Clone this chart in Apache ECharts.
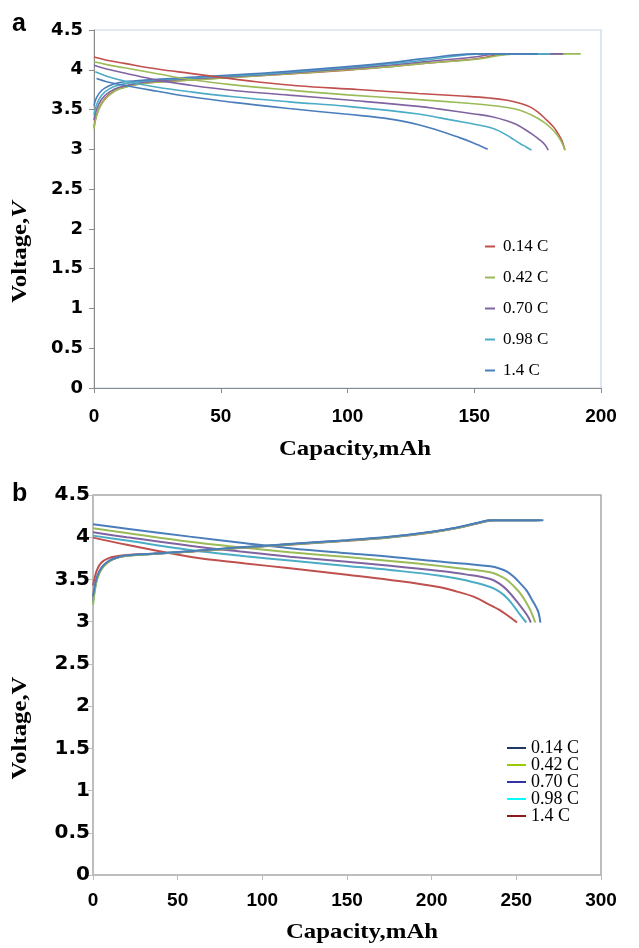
<!DOCTYPE html>
<html><head><meta charset="utf-8">
<script src="https://cdn.jsdelivr.net/npm/echarts@6/dist/echarts.min.js"></script>
<style>html,body{margin:0;padding:0;background:#fff}#c{width:639px;height:948px}</style>
</head><body><div id="c"></div>
<script>
// ---------- data ----------
const rates = ['0.14 C', '0.42 C', '0.70 C', '0.98 C', '1.4 C'];
const xTitle = 'Capacity,mAh';
const yTitle = 'Voltage,V';

// panel a : discharge [capacity mAh, voltage V]
const aDis014 = [[0,4.16],[5,4.12],[12,4.08],[25,4.01],[38,3.955],[50,3.905],[64,3.85],[80,3.80],[104,3.752],[128,3.702],[145,3.67],[156,3.645],[163,3.618],[168,3.58],[172,3.534],[175,3.47],[178.6,3.367],[181.2,3.283],[183,3.2],[184.5,3.116],[185.8,2.99]];
const aDis042 = [[0,4.10],[5,4.065],[12,4.025],[25,3.95],[38,3.878],[55,3.81],[77,3.745],[100,3.685],[128,3.625],[145,3.585],[156,3.555],[163,3.525],[168,3.49],[172,3.44],[175,3.39],[178,3.33],[180.5,3.26],[182.5,3.19],[184.3,3.1],[185.8,2.99]];
const aDis070 = [[0,4.058],[5,4.01],[12,3.96],[25,3.87],[38,3.806],[55,3.74],[77,3.681],[100,3.62],[128,3.54],[136.5,3.505],[150,3.445],[157,3.41],[162.8,3.36],[166.5,3.315],[169.4,3.262],[172.8,3.19],[175.9,3.116],[177.8,3.06],[179.2,2.99]];
const aDis098 = [[0.5,3.974],[5,3.92],[12,3.86],[25,3.78],[38,3.723],[55,3.66],[77,3.597],[100,3.54],[128,3.445],[136.5,3.395],[146,3.34],[151,3.31],[156.2,3.275],[159.5,3.235],[162.8,3.178],[165.5,3.125],[168,3.074],[170.5,3.03],[172.6,2.99]];
const aDis140 = [[1,3.89],[5,3.85],[11.6,3.806],[25,3.73],[38,3.66],[55,3.59],[77,3.513],[100,3.44],[117,3.38],[128,3.31],[136.5,3.23],[143,3.16],[149,3.09],[155.3,3.0]];
// panel a : charge
const aChg014 = [[0,3.28],[1,3.43],[3,3.58],[6,3.69],[10,3.765],[20,3.83],[40,3.875],[70,3.935],[100,3.995],[117,4.04],[130,4.08],[150,4.135],[164,4.2],[186,4.2]];
const aChg042 = [[0,3.26],[1,3.42],[3,3.57],[6,3.68],[10,3.76],[20,3.83],[40,3.875],[70,3.935],[100,4.0],[117,4.04],[130,4.08],[150,4.13],[167,4.2],[192,4.2]];
const aChg070 = [[0,3.37],[1,3.5],[3,3.63],[6,3.72],[10,3.78],[20,3.845],[40,3.89],[70,3.945],[100,4.015],[117,4.06],[130,4.1],[150,4.16],[159,4.2],[185,4.2]];
const aChg098 = [[0,3.43],[1,3.56],[3,3.68],[6,3.76],[10,3.81],[20,3.86],[40,3.9],[70,3.955],[100,4.03],[117,4.075],[130,4.12],[154,4.2],[180,4.2]];
const aChg140 = [[0,3.55],[1,3.65],[3,3.74],[6,3.8],[10,3.84],[20,3.87],[40,3.91],[70,3.965],[100,4.04],[117,4.09],[130,4.14],[150,4.2],[175,4.2]];

// panel b : discharge
const bDis014 = [[0,4.153],[20,4.10],[57.2,4.007],[90,3.93],[116.3,3.869],[150,3.81],[175.5,3.77],[200,3.72],[220,3.685],[234.6,3.655],[240,3.63],[244.5,3.593],[248,3.54],[252.3,3.454],[256,3.37],[259.3,3.257],[262,3.16],[263.2,3.1],[264.2,2.99]];
const bDis042 = [[0,4.106],[20,4.05],[57.2,3.947],[90,3.875],[116.3,3.822],[150,3.765],[175.5,3.719],[205,3.66],[220,3.625],[234.6,3.585],[240,3.545],[244.5,3.494],[248.5,3.42],[252.3,3.336],[255.5,3.24],[258.2,3.139],[261.2,2.99]];
const bDis070 = [[0,4.058],[20,4.0],[57.2,3.9],[90,3.825],[116.3,3.77],[150,3.71],[175.5,3.663],[205,3.6],[220,3.56],[234.6,3.505],[240,3.45],[244.5,3.375],[250.4,3.237],[256.3,3.079],[258.6,2.99]];
const bDis098 = [[0,4.019],[20,3.96],[57.2,3.849],[90,3.775],[116.3,3.723],[150,3.66],[175.5,3.612],[205,3.545],[220,3.49],[234.6,3.41],[240,3.355],[244.5,3.28],[248.5,3.185],[252.3,3.08],[255.9,2.99]];
const bDis140 = [[0,3.995],[20,3.91],[57.2,3.77],[90,3.69],[116.3,3.632],[150,3.555],[175.5,3.494],[205,3.407],[214.9,3.356],[224.7,3.296],[234.6,3.197],[240,3.14],[244.5,3.079],[250.4,2.99]];
// panel b : charge
const bChg014 = [[0,3.30],[1,3.42],[2.5,3.54],[5,3.64],[9,3.715],[14,3.76],[20,3.785],[35,3.805],[57,3.835],[87,3.88],[116,3.92],[150,3.965],[175,4.005],[200,4.065],[215,4.115],[228,4.175],[235,4.2],[266,4.2]];
const bChg042 = [[0,3.20],[1,3.36],[2.5,3.51],[5,3.62],[9,3.705],[14,3.755],[20,3.78],[35,3.80],[57,3.83],[87,3.875],[116,3.915],[150,3.96],[175,4.0],[200,4.06],[215,4.11],[228,4.17],[236,4.2],[265,4.2]];
const bChg070 = [[0,3.25],[1,3.39],[2.5,3.52],[5,3.63],[9,3.71],[14,3.757],[20,3.782],[35,3.802],[57,3.832],[87,3.877],[116,3.917],[150,3.962],[175,4.002],[200,4.062],[215,4.112],[228,4.172],[236,4.2],[264,4.2]];
const bChg098 = [[0,3.22],[1,3.37],[2.5,3.515],[5,3.625],[9,3.707],[14,3.756],[20,3.781],[35,3.801],[57,3.831],[87,3.876],[116,3.916],[150,3.961],[175,4.001],[200,4.061],[215,4.111],[228,4.171],[236,4.2],[263,4.2]];
const bChg140 = [[0,3.43],[1,3.52],[2.5,3.62],[5,3.70],[9,3.75],[14,3.775],[20,3.79],[35,3.805],[57,3.828],[87,3.872],[116,3.912],[150,3.957],[175,3.997],[200,4.057],[215,4.108],[228,4.168],[237,4.2],[262,4.2]];

// ---------- styles ----------
const curveColors = ['#c0504d', '#9bbb59', '#8064a2', '#4bacc6', '#4a7ebb'];
const curveColorsB = ['#4a7ebb', '#9bbb59', '#8064a2', '#4bacc6', '#c0504d'];
const legendColorsB = ['#1f3864', '#99cc00', '#3333aa', '#00ffff', '#8b1a1a'];

const aDis = [aDis014, aDis042, aDis070, aDis098, aDis140];
const aChg = [aChg014, aChg042, aChg070, aChg098, aChg140];
const bDis = [bDis014, bDis042, bDis070, bDis098, bDis140];
const bChg = [bChg014, bChg042, bChg070, bChg098, bChg140];

const series = [];
function add(name, data, color, idx, w) {
  series.push({
    name: name, type: 'line', data: data, xAxisIndex: idx, yAxisIndex: idx,
    showSymbol: false, smooth: 0.4, silent: true,
    lineStyle: { color: color, width: w }, itemStyle: { color: color },
    animation: false
  });
}
rates.forEach((r, i) => add(r, aChg[i], curveColors[i], 0, 1.6));
rates.forEach((r, i) => add(r, aDis[i], curveColors[i], 0, 1.6));
rates.forEach((r, i) => add(r, bDis[i], curveColorsB[i], 1, 2));
[4, 3, 2, 1, 0].forEach(i => add(rates[i], bChg[i], curveColorsB[i], 1, 2));

const labelFontX = { fontFamily: 'Liberation Sans, Arial', fontWeight: 'bold', fontSize: 19, color: '#000' };
const serif = '"Liberation Serif", "Times New Roman", serif';

function xAx(idx, max, margin, color) {
  return {
    type: 'value', gridIndex: idx, min: 0, max: max, interval: 50,
    axisLine: { show: true, onZero: false, lineStyle: { color: color, width: 1 } },
    axisTick: { show: true, length: 5, lineStyle: { color: color } },
    splitLine: { show: false },
    axisLabel: Object.assign({ margin: margin }, labelFontX)
  };
}
function yAx(idx, margin, color, fs) {
  return {
    type: 'value', gridIndex: idx, min: 0, max: 4.5, interval: 0.5,
    axisLine: { show: true, onZero: false, lineStyle: { color: color, width: 1 } },
    axisTick: { show: true, length: 5, lineStyle: { color: color } },
    splitLine: { show: false },
    axisLabel: { margin: margin, fontFamily: 'DejaVu Sans', fontWeight: 'bold', fontSize: fs, color: '#000',
      formatter: v => String(v) }
  };
}
function title(text, x, y, rot, rich) {
  const st = { text: text, fontFamily: serif, fontWeight: 'bold', fontSize: 21, fill: '#000', align: 'center', verticalAlign: 'middle' };
  if (rich) st.rich = rich;
  return { type: 'text', x: x, y: y, rotation: rot, scaleX: 1.18, style: st, silent: true };
}
const richA = {
  n: { fontFamily: serif, fontWeight: 'bold', fontSize: 21, fill: '#000' },
  i: { fontFamily: serif, fontWeight: 'bold', fontStyle: 'italic', fontSize: 21, fill: '#000' }
};

const option = {
  backgroundColor: '#fff',
  animation: false,
  grid: [
    { left: 94, top: 30, width: 507, height: 358, show: true, borderColor: '#c6d6ea', borderWidth: 1.2, backgroundColor: 'transparent' },
    { left: 93, top: 495, width: 508, height: 380, show: true, borderColor: '#a8a8a8', borderWidth: 1.5, backgroundColor: 'transparent' }
  ],
  xAxis: [xAx(0, 200, 19, '#8a8a8a'), xAx(1, 300, 16, '#bdbdbd')],
  yAxis: [yAx(0, 11, '#8a8a8a', 18), yAx(1, 3, '#bdbdbd', 20)],
  legend: [
    {
      orient: 'vertical', left: 480, top: 233, itemGap: 14, itemWidth: 10, itemHeight: 14,
      icon: 'path://M0,0H10V2H0Z', selectedMode: false,
      textStyle: { fontFamily: serif, fontSize: 17, color: '#000', padding: [0, 0, 0, 3] },
      data: rates.map((r, i) => ({ name: r, itemStyle: { color: curveColors[i] } }))
    },
    {
      orient: 'vertical', left: 502, top: 734, itemGap: -1, itemWidth: 19, itemHeight: 14,
      icon: 'path://M0,0H19V2H0Z', selectedMode: false,
      textStyle: { fontFamily: serif, fontSize: 18, color: '#000' },
      data: rates.map((r, i) => ({ name: r, itemStyle: { color: legendColorsB[i] } }))
    }
  ],
  graphic: [
    { type: 'text', left: 12, top: 12, style: { text: 'a', font: 'bold 25px "Liberation Sans", Arial', fill: '#000' } },
    { type: 'text', left: 12, top: 482, style: { text: 'b', font: 'bold 25px "Liberation Sans", Arial', fill: '#000' } },
    title(xTitle, 355, 450, 0),
    title(xTitle, 362, 933, 0),
    title('{n|Voltage,}{i|V}', 21, 252, Math.PI / 2, richA),
    title(yTitle, 21, 728, Math.PI / 2)
  ],
  series: series
};

const chart = echarts.init(document.getElementById('c'), null, { renderer: 'canvas' });
chart.setOption(option);
</script>
</body></html>
